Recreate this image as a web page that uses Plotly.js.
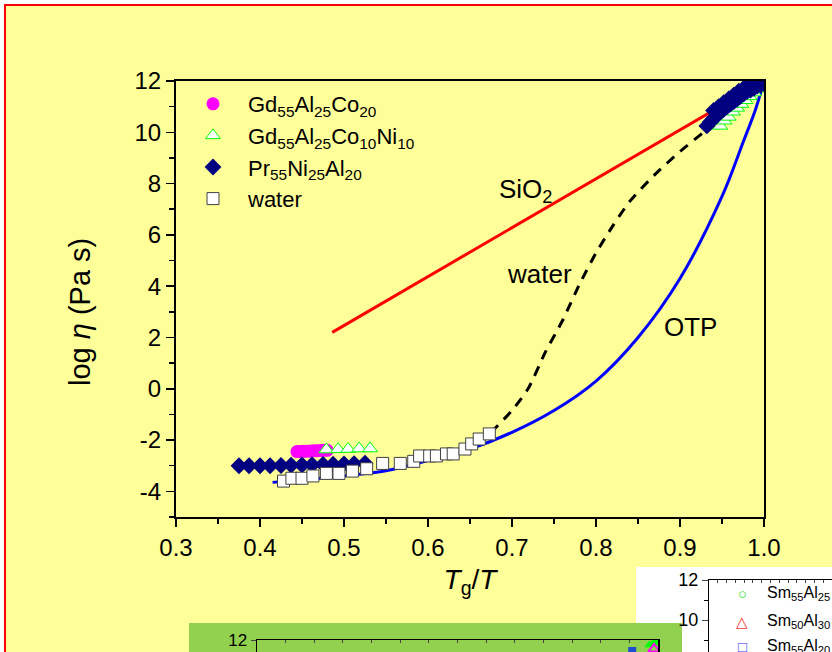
<!DOCTYPE html>
<html>
<head>
<meta charset="utf-8">
<script src="https://cdn.plot.ly/plotly-3.0.1.min.js"></script>
<style>
  html, body { margin: 0; padding: 0; background: #ffffff; }
  #chart { width: 832px; height: 652px; }
</style>
</head>
<body>
<div id="chart"></div>
<script>
// ---- viscosity data: log10(eta / Pa s) versus Tg/T ----

// strong liquid (straight Arrhenius line)
const sio2X = [0.486, 1.0];
const sio2Y = [2.2, 12.0];

// fragile organic liquid (o-terphenyl)
const otpX = [0.415, 0.45, 0.50, 0.55, 0.60, 0.65, 0.70, 0.75, 0.80, 0.85, 0.90, 0.95, 0.975, 0.99, 1.0];
const otpY = [-3.65, -3.55, -3.4, -3.2, -2.8, -2.35, -1.7, -0.85, 0.3, 2.0, 4.3, 7.5, 9.6, 10.9, 12.0];

// water, extrapolated towards Tg
const waterLineX = [0.675, 0.70, 0.72, 0.74, 0.76, 0.78, 0.80, 0.82, 0.84, 0.87, 0.90, 0.93, 0.96, 1.0];
const waterLineY = [-1.7, -0.85, 0.05, 1.45, 2.65, 4.05, 5.3, 6.35, 7.3, 8.35, 9.25, 10.05, 10.85, 12.0];

// measured water data
const waterX = [0.428, 0.438, 0.450, 0.463, 0.479, 0.494, 0.510, 0.527, 0.546, 0.567,
                0.583, 0.590, 0.602, 0.610, 0.622, 0.630, 0.644, 0.652, 0.661, 0.673];
const waterY = [-3.6, -3.49, -3.49, -3.4, -3.3, -3.3, -3.21, -3.12, -2.91, -2.91,
                -2.83, -2.62, -2.62, -2.62, -2.54, -2.54, -2.35, -2.15, -1.96, -1.76];

// Gd55Al25Co20
const gdCoX = [0.444, 0.448, 0.452, 0.456, 0.460, 0.464, 0.468, 0.472, 0.476, 0.480];
const gdCoY = [-2.45, -2.45, -2.44, -2.44, -2.43, -2.42, -2.42, -2.41, -2.40, -2.40];

// Gd55Al25Co10Ni10
const gdNiX = [0.479, 0.493, 0.505, 0.518, 0.531,
               0.948, 0.953, 0.958, 0.963, 0.968, 0.973, 0.978, 0.983, 0.988, 0.993, 0.997];
const gdNiY = [-2.37, -2.36, -2.35, -2.33, -2.33,
               10.25, 10.45, 10.6, 10.8, 10.95, 11.1, 11.25, 11.4, 11.55, 11.7, 11.85];

// Pr55Ni25Al20
const prX = [0.375, 0.387, 0.400, 0.412, 0.425, 0.437, 0.450, 0.462, 0.475, 0.487, 0.500, 0.512, 0.525,
             0.932, 0.936, 0.940, 0.944, 0.948, 0.952, 0.956, 0.960, 0.964, 0.968, 0.972, 0.976,
             0.980, 0.984, 0.988, 0.992, 0.996, 1.0,
             0.940, 0.946, 0.952, 0.958, 0.964, 0.970, 0.976, 0.982, 0.988, 0.994];
const prY = [-3.0, -3.0, -3.0, -3.0, -2.99, -2.98, -2.97, -2.96, -2.95, -2.94, -2.93, -2.92, -2.9,
             10.25, 10.4, 10.55, 10.65, 10.8, 10.9, 11.0, 11.1, 11.2, 11.3, 11.4, 11.5,
             11.6, 11.65, 11.72, 11.8, 11.85, 11.9,
             10.85, 11.0, 11.15, 11.3, 11.45, 11.6, 11.72, 11.82, 11.9, 11.95];

// green inset panel – points near Tg
const insetAX = [0.985, 0.992, 0.998];
const insetAY = [11.75, 11.85, 11.95];
const insetBX = [0.993];
const insetBY = [11.55];
const insetCX = [0.955];
const insetCY = [11.45];

// white panel series (only the axes and key are in view)
const smX = [];
const smY = [];

// tick values
const xTickVals = [0.3, 0.4, 0.5, 0.6, 0.7, 0.8, 0.9, 1.0];
const yTickVals = [-4, -2, 0, 2, 4, 6, 8, 10, 12];

const FONT = 'Arial, "Liberation Sans", sans-serif';
const W = 832, H = 652;
const px = v => v / W;            // pixel -> paper x
const py = v => 1 - v / H;        // pixel -> paper y

const traces = [
  { x: otpX, y: otpY, mode: 'lines', line: { color: '#0000ff', width: 3, shape: 'spline', smoothing: 1 },
    showlegend: false, hoverinfo: 'skip' },
  { x: sio2X, y: sio2Y, mode: 'lines', line: { color: '#ff0000', width: 3 },
    showlegend: false, hoverinfo: 'skip' },
  { x: waterLineX, y: waterLineY, mode: 'lines', line: { color: '#000000', width: 3, dash: '10px,8px', shape: 'spline', smoothing: 0.6 },
    showlegend: false, hoverinfo: 'skip' },
  { x: gdCoX, y: gdCoY, mode: 'markers', name: 'Gd<sub>55</sub>Al<sub>25</sub>Co<sub>20</sub>',
    marker: { symbol: 'circle', size: 13, color: '#ff00ff', line: { width: 0 } } },
  { x: gdNiX, y: gdNiY, mode: 'markers', name: 'Gd<sub>55</sub>Al<sub>25</sub>Co<sub>10</sub>Ni<sub>10</sub>',
    marker: { symbol: 'triangle-up', size: 13, color: '#ffffff', line: { color: '#00ff00', width: 1 } } },
  { x: prX, y: prY, mode: 'markers', name: 'Pr<sub>55</sub>Ni<sub>25</sub>Al<sub>20</sub>',
    marker: { symbol: 'diamond', size: 13, color: '#000080', line: { width: 0 } } },
  { x: waterX, y: waterY, mode: 'markers', name: 'water',
    marker: { symbol: 'square', size: 12, color: '#ffffff', line: { color: '#404040', width: 1 } } },
  // green inset panel points
  { x: insetCX, y: insetCY, xaxis: 'x2', yaxis: 'y2', mode: 'markers', showlegend: false,
    marker: { symbol: 'square', size: 8, color: '#1f4fd0' } },
  { x: insetAX, y: insetAY, xaxis: 'x2', yaxis: 'y2', mode: 'markers', showlegend: false,
    marker: { symbol: 'triangle-up', size: 9, color: '#00ff00' } },
  { x: insetBX, y: insetBY, xaxis: 'x2', yaxis: 'y2', mode: 'markers', showlegend: false,
    marker: { symbol: 'triangle-up-open', size: 10, color: '#ff00ff', line: { width: 2 } } },
  // white panel
  { x: smX, y: smY, xaxis: 'x3', yaxis: 'y3', mode: 'markers', showlegend: false }
];

const mainDomX = [px(176), px(764)];
const mainDomY = [py(517), py(81)];

const layout = {
  width: W, height: H,
  margin: { l: 0, r: 0, t: 0, b: 0 },
  paper_bgcolor: '#ffffff',
  plot_bgcolor: 'rgba(0,0,0,0)',
  font: { family: FONT, color: '#000000' },
  showlegend: true,
  legend: {
    x: px(178), y: py(83), xanchor: 'left', yanchor: 'top',
    bgcolor: 'rgba(0,0,0,0)', borderwidth: 0,
    font: { family: FONT, size: 22, color: '#000000' },
    tracegroupgap: 0, itemwidth: 60
  },
  xaxis: {
    domain: mainDomX, range: [0.3, 1.0], anchor: 'y',
    tickvals: xTickVals, ticktext: xTickVals.map(v => v.toFixed(1)),
    ticks: 'outside', ticklen: 8, tickwidth: 1.5, tickcolor: '#000',
    minor: { dtick: 0.05, ticks: 'outside', ticklen: 5, tickwidth: 1.5, tickcolor: '#000', showgrid: false },
    showline: true, linecolor: '#000', linewidth: 2, mirror: true,
    showgrid: false, zeroline: false,
    tickfont: { family: FONT, size: 24 },
    title: { text: '<i>T</i><sub>g</sub>/<i>T</i>', font: { family: FONT, size: 28 }, standoff: 10 }
  },
  yaxis: {
    domain: mainDomY, range: [-5, 12], anchor: 'x',
    tickvals: yTickVals, ticktext: yTickVals.map(String),
    ticks: 'outside', ticklen: 8, tickwidth: 1.5, tickcolor: '#000',
    minor: { dtick: 1, ticks: 'outside', ticklen: 5, tickwidth: 1.5, tickcolor: '#000', showgrid: false },
    showline: true, linecolor: '#000', linewidth: 2, mirror: true,
    showgrid: false, zeroline: false,
    tickfont: { family: FONT, size: 24 }
  },
  // inward ticks on the top and right frame
  xaxis4: {
    overlaying: 'x', side: 'top', anchor: 'y', range: [0.3, 1.0], matches: 'x',
    tickvals: xTickVals, showticklabels: false, ticks: 'inside', ticklen: 6, tickwidth: 1.5, tickcolor: '#000',
    minor: { dtick: 0.05, ticks: 'inside', ticklen: 4, tickwidth: 1.5, tickcolor: '#000' },
    showline: false, showgrid: false, zeroline: false
  },
  yaxis4: {
    overlaying: 'y', side: 'right', anchor: 'x', range: [-5, 12],
    tickvals: yTickVals, showticklabels: false, ticks: 'inside', ticklen: 6, tickwidth: 1.5, tickcolor: '#000',
    minor: { dtick: 1, ticks: 'inside', ticklen: 4, tickwidth: 1.5, tickcolor: '#000' },
    showline: false, showgrid: false, zeroline: false
  },
  // green inset panel (partly in view)
  xaxis2: {
    domain: [px(257), px(658)], range: [0.3, 1.0], anchor: 'y2', side: 'top',
    showline: true, linecolor: '#000', linewidth: 1.5, mirror: false,
    ticks: 'inside', ticklen: 3, tickwidth: 1, dtick: 0.05, showticklabels: false,
    showgrid: false, zeroline: false
  },
  yaxis2: {
    domain: [0, py(640)], range: [11.4, 12], anchor: 'x2',
    showline: true, linecolor: '#000', linewidth: 1.5, mirror: true,
    ticks: 'outside', ticklen: 5, tickwidth: 1, tickvals: [12], ticktext: ['12'],
    tickfont: { family: FONT, size: 17 }, showgrid: false, zeroline: false
  },
  // white panel (partly in view)
  xaxis3: {
    domain: [px(709), 1], range: [0.3, 1.0], anchor: 'y3', side: 'top',
    showline: true, linecolor: '#000', linewidth: 1, ticks: 'inside', ticklen: 3, dtick: 0.05,
    showticklabels: false, showgrid: false, zeroline: false
  },
  yaxis3: {
    domain: [0, py(580)], range: [8.4, 12], anchor: 'x3',
    showline: true, linecolor: '#000', linewidth: 1,
    ticks: 'outside', ticklen: 6, tickwidth: 1, tickvals: [10, 12], ticktext: ['10', '12'],
    minor: { dtick: 1, ticks: 'outside', ticklen: 4, tickcolor: '#000' },
    tickfont: { family: FONT, size: 18 }, showgrid: false, zeroline: false
  },
  shapes: [
    // slide background with red frame
    { type: 'rect', xref: 'paper', yref: 'paper', x0: px(5), x1: 1.2, y0: -0.2, y1: py(5),
      fillcolor: '#ffff99', line: { color: '#ff0000', width: 2 }, layer: 'below' },
    // white panel
    { type: 'rect', xref: 'paper', yref: 'paper', x0: px(636), x1: 1.2, y0: -0.2, y1: py(567),
      fillcolor: '#ffffff', line: { width: 0 }, layer: 'below' },
    // green panel
    { type: 'rect', xref: 'paper', yref: 'paper', x0: px(189), x1: px(682), y0: -0.2, y1: py(623),
      fillcolor: '#92d050', line: { width: 0 }, layer: 'below' }
  ],
  annotations: [
    // y axis title
    { x: px(80), y: py(312), xref: 'paper', yref: 'paper', text: 'log <i>η</i> (Pa s)', showarrow: false,
      textangle: -90, font: { family: FONT, size: 29 }, xanchor: 'center', yanchor: 'middle' },
    { x: 0.7155, y: 7.75, xref: 'x', yref: 'y', text: 'SiO<sub>2</sub>', showarrow: false,
      font: { family: FONT, size: 26 }, xanchor: 'center', yanchor: 'middle' },
    { x: 0.7327, y: 4.47, xref: 'x', yref: 'y', text: 'water', showarrow: false,
      font: { family: FONT, size: 26 }, xanchor: 'center', yanchor: 'middle' },
    { x: 0.913, y: 2.39, xref: 'x', yref: 'y', text: 'OTP', showarrow: false,
      font: { family: FONT, size: 26 }, xanchor: 'center', yanchor: 'middle' },
    // white panel key
    { x: px(742), y: py(593), xref: 'paper', yref: 'paper', text: '○', showarrow: false,
      font: { family: FONT, size: 15, color: '#33dd33' }, xanchor: 'center', yanchor: 'middle' },
    { x: px(765), y: py(593), xref: 'paper', yref: 'paper', text: 'Sm<sub>55</sub>Al<sub>25</sub>', showarrow: false,
      font: { family: FONT, size: 16 }, xanchor: 'left', yanchor: 'middle' },
    { x: px(742), y: py(621), xref: 'paper', yref: 'paper', text: '△', showarrow: false,
      font: { family: FONT, size: 15, color: '#ff3333' }, xanchor: 'center', yanchor: 'middle' },
    { x: px(765), y: py(621), xref: 'paper', yref: 'paper', text: 'Sm<sub>50</sub>Al<sub>30</sub>', showarrow: false,
      font: { family: FONT, size: 16 }, xanchor: 'left', yanchor: 'middle' },
    { x: px(742), y: py(646), xref: 'paper', yref: 'paper', text: '□', showarrow: false,
      font: { family: FONT, size: 15, color: '#3333ff' }, xanchor: 'center', yanchor: 'middle' },
    { x: px(765), y: py(646), xref: 'paper', yref: 'paper', text: 'Sm<sub>55</sub>Al<sub>20</sub>', showarrow: false,
      font: { family: FONT, size: 16 }, xanchor: 'left', yanchor: 'middle' }
  ]
};

Plotly.newPlot('chart', traces, layout, { staticPlot: true, displayModeBar: false });
</script>
</body>
</html>
